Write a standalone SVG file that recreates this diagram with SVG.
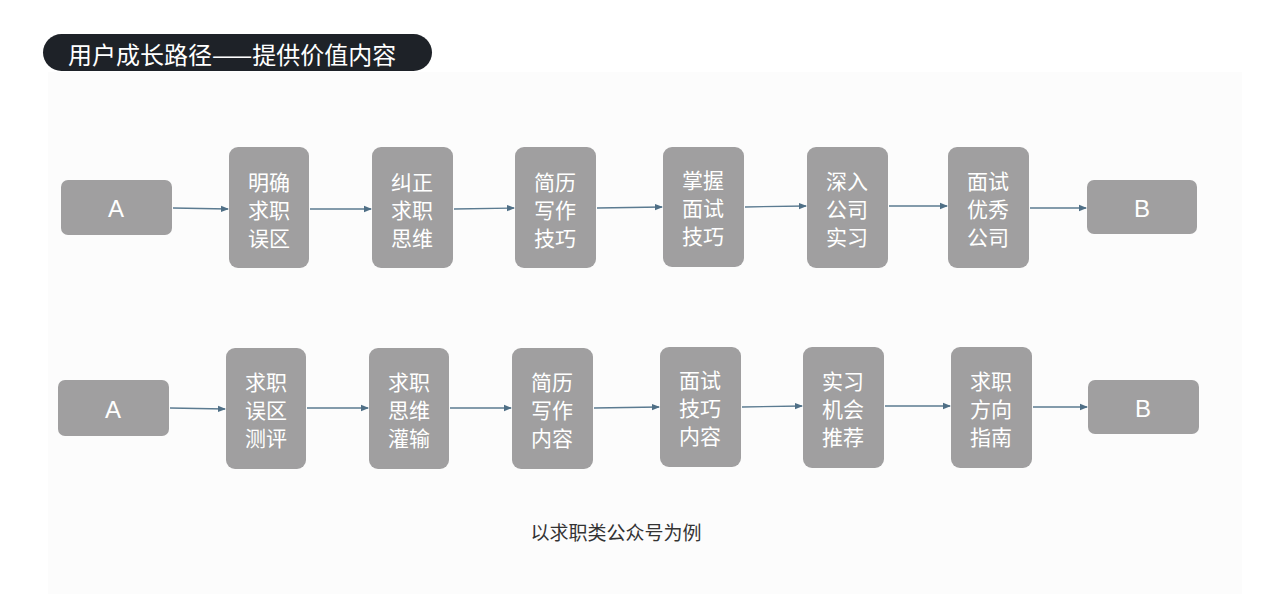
<svg xmlns="http://www.w3.org/2000/svg" width="1280" height="594" viewBox="0 0 1280 594">
<defs>
<style>
.n{fill:#a09fa0}
.t{fill:#fff;font-family:"Noto Sans CJK SC","Liberation Sans",sans-serif;font-size:21px;text-anchor:middle;dominant-baseline:central}
.ab{font-family:"Liberation Sans",sans-serif;font-size:24px}
.c line{stroke:#5b7b91;stroke-width:1.3;marker-end:url(#ar)}
</style>
<marker id="ar" markerWidth="8" markerHeight="8" refX="7" refY="4" orient="auto" markerUnits="userSpaceOnUse"><path d="M0,0.8 L8,4 L0,7.2 Z" fill="#4f6f86"/></marker>
</defs>
<rect width="1280" height="594" fill="#fff"/>
<rect x="48" y="72" width="1194" height="522" fill="#fcfcfc"/>
<g id="title"><rect x="43" y="34" width="389" height="37" rx="18.5" fill="#1e2228"/>
<text x="68" y="53" style="fill:#fff;font-family:'Noto Sans CJK SC',sans-serif;font-size:24px;dominant-baseline:central">用户成长路径——提供价值内容</text></g>
<g class="c">
<line x1="173" y1="208" x2="228" y2="209"/><line x1="310" y1="209" x2="371" y2="209"/><line x1="454" y1="209" x2="514" y2="208"/><line x1="597" y1="208" x2="662" y2="207"/><line x1="745" y1="207" x2="806" y2="206"/><line x1="889" y1="206" x2="947" y2="206"/><line x1="1030" y1="208" x2="1086" y2="208"/>
<line x1="170" y1="408" x2="225" y2="409"/><line x1="307" y1="408" x2="368" y2="408"/><line x1="450" y1="408" x2="511" y2="408"/><line x1="594" y1="408" x2="659" y2="407"/><line x1="742" y1="407" x2="802" y2="406"/><line x1="885" y1="406" x2="950" y2="406"/><line x1="1033" y1="407" x2="1087" y2="407"/>
</g>
<g id="a1"><rect class="n" x="61" y="180" width="111" height="55" rx="7"/><text class="t ab" x="116" y="208">A</text></g>
<g id="r1n1"><rect class="n" x="229" y="147" width="80" height="121" rx="9"/><text class="t" x="269" y="181">明确</text><text class="t" x="269" y="209">求职</text><text class="t" x="269" y="237">误区</text></g>
<g id="r1n2"><rect class="n" x="372" y="147" width="81" height="121" rx="9"/><text class="t" x="412" y="181">纠正</text><text class="t" x="412" y="209">求职</text><text class="t" x="412" y="237">思维</text></g>
<g id="r1n3"><rect class="n" x="515" y="147" width="81" height="121" rx="9"/><text class="t" x="555" y="181">简历</text><text class="t" x="555" y="209">写作</text><text class="t" x="555" y="237">技巧</text></g>
<g id="r1n4"><rect class="n" x="663" y="147" width="81" height="120" rx="9"/><text class="t" x="703" y="179">掌握</text><text class="t" x="703" y="207">面试</text><text class="t" x="703" y="235">技巧</text></g>
<g id="r1n5"><rect class="n" x="807" y="147" width="81" height="121" rx="9"/><text class="t" x="847" y="180">深入</text><text class="t" x="847" y="208">公司</text><text class="t" x="847" y="236">实习</text></g>
<g id="r1n6"><rect class="n" x="948" y="147" width="81" height="121" rx="9"/><text class="t" x="988" y="180">面试</text><text class="t" x="988" y="208">优秀</text><text class="t" x="988" y="236">公司</text></g>
<g id="b1"><rect class="n" x="1087" y="180" width="110" height="54" rx="7"/><text class="t ab" x="1142" y="208">B</text></g>
<g id="a2"><rect class="n" x="58" y="380" width="111" height="56" rx="7"/><text class="t ab" x="113" y="409">A</text></g>
<g id="r2n1"><rect class="n" x="226" y="348" width="80" height="121" rx="9"/><text class="t" x="266" y="381">求职</text><text class="t" x="266" y="409">误区</text><text class="t" x="266" y="437">测评</text></g>
<g id="r2n2"><rect class="n" x="369" y="348" width="80" height="121" rx="9"/><text class="t" x="409" y="381">求职</text><text class="t" x="409" y="409">思维</text><text class="t" x="409" y="437">灌输</text></g>
<g id="r2n3"><rect class="n" x="512" y="348" width="81" height="121" rx="9"/><text class="t" x="552" y="381">简历</text><text class="t" x="552" y="409">写作</text><text class="t" x="552" y="437">内容</text></g>
<g id="r2n4"><rect class="n" x="660" y="347" width="81" height="120" rx="9"/><text class="t" x="700" y="379">面试</text><text class="t" x="700" y="407">技巧</text><text class="t" x="700" y="435">内容</text></g>
<g id="r2n5"><rect class="n" x="803" y="347" width="81" height="121" rx="9"/><text class="t" x="843" y="380">实习</text><text class="t" x="843" y="408">机会</text><text class="t" x="843" y="436">推荐</text></g>
<g id="r2n6"><rect class="n" x="951" y="347" width="81" height="121" rx="9"/><text class="t" x="991" y="380">求职</text><text class="t" x="991" y="408">方向</text><text class="t" x="991" y="436">指南</text></g>
<g id="b2"><rect class="n" x="1088" y="380" width="111" height="54" rx="7"/><text class="t ab" x="1143" y="408">B</text></g>
<text x="616" y="531" style="fill:#333;font-family:'Noto Sans CJK SC',sans-serif;font-size:19px;text-anchor:middle;dominant-baseline:central">以求职类公众号为例</text>
</svg>
